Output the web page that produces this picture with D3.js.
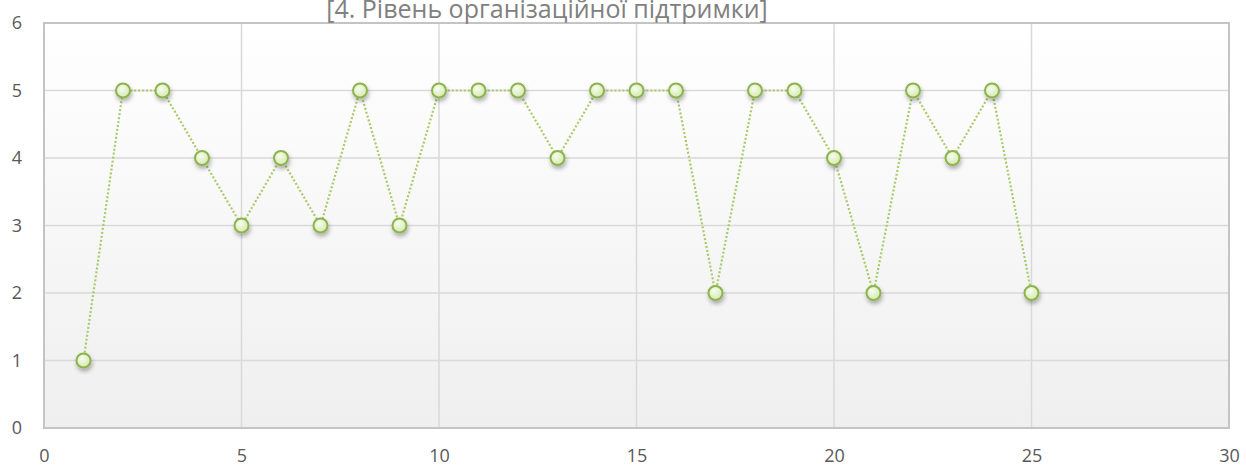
<!DOCTYPE html>
<html>
<head>
<meta charset="utf-8">
<script src="https://cdn.jsdelivr.net/npm/d3@7"></script>
<style>
  body { margin: 0; background: #fff; }
  text { font-family: "Open Sans", "DejaVu Sans", sans-serif; }
</style>
</head>
<body>
<div id="chart"></div>
<script>
const title = "[4. Рівень організаційної підтримки]";
const xValues = d3.range(1, 26);
const yValues = [1, 5, 5, 4, 3, 4, 3, 5, 3, 5, 5, 5, 4, 5, 5, 5, 2, 5, 5, 4, 2, 5, 4, 5, 2];
const xTicks = [0, 5, 10, 15, 20, 25, 30];
const yTicks = [0, 1, 2, 3, 4, 5, 6];

const width = 1246, height = 469;
const margin = { top: 23, right: 17, bottom: 41, left: 44 };
const w = width - margin.left - margin.right;
const h = height - margin.top - margin.bottom;

const svg = d3.select("#chart").append("svg")
    .attr("width", width)
    .attr("height", height);

const defs = svg.append("defs");
let bg = defs.append("linearGradient").attr("id", "bg")
    .attr("x1", 0).attr("y1", 0).attr("x2", 0).attr("y2", 1);
bg.append("stop").attr("offset", "0%").attr("stop-color", "#ffffff");
bg.append("stop").attr("offset", "100%").attr("stop-color", "#efefef");

let mk = defs.append("radialGradient").attr("id", "mk")
    .attr("cx", "40%").attr("cy", "35%").attr("r", "65%");
mk.append("stop").attr("offset", "0%").attr("stop-color", "#f7fcee");
mk.append("stop").attr("offset", "100%").attr("stop-color", "#d6eab0");

let sh = defs.append("filter").attr("id", "sh")
    .attr("x", "-50%").attr("y", "-50%").attr("width", "200%").attr("height", "200%");
sh.append("feDropShadow").attr("dx", 1).attr("dy", 3).attr("stdDeviation", 2)
    .attr("flood-color", "#000").attr("flood-opacity", 0.3);

const g = svg.append("g").attr("transform", `translate(${margin.left}, ${margin.top})`);

let x = d3.scaleLinear().domain([0, 30]).range([0, w]);
let y = d3.scaleLinear().domain([0, 6]).range([h, 0]);

// plot background
g.append("rect").attr("width", w).attr("height", h).attr("fill", "url(#bg)");

// gridlines
g.append("g").selectAll("line").data(yTicks.slice(1))
    .enter().append("line")
    .attr("x1", 0).attr("x2", w)
    .attr("y1", d => y(d)).attr("y2", d => y(d))
    .attr("stroke", "#d9d9d9").attr("stroke-width", 1.5);
g.append("g").selectAll("line").data(xTicks.slice(1, -1))
    .enter().append("line")
    .attr("x1", d => x(d)).attr("x2", d => x(d))
    .attr("y1", 0).attr("y2", h)
    .attr("stroke", "#d9d9d9").attr("stroke-width", 1.5);

// axes
let xAxis = g.append("g").attr("transform", `translate(0, ${h})`)
    .call(d3.axisBottom(x).tickValues(xTicks).tickFormat(d3.format("d")).tickSize(0).tickPadding(21));
let yAxis = g.append("g")
    .call(d3.axisLeft(y).tickValues(yTicks).tickFormat(d3.format("d")).tickSize(0).tickPadding(22));
[xAxis, yAxis].forEach(a => {
    a.select(".domain").remove();
    a.selectAll("text")
        .style("font-family", "'Open Sans', sans-serif")
        .style("font-size", "18px")
        .attr("fill", "#595959");
});

// plot border
g.append("rect").attr("width", w).attr("height", h)
    .attr("fill", "none").attr("stroke", "#c4c4c4").attr("stroke-width", 2);

// series
const data = xValues.map((v, i) => ({ x: v, y: yValues[i] }));
g.append("path").datum(data)
    .attr("fill", "none")
    .attr("stroke", "#a9c96c")
    .attr("stroke-width", 2.2)
    .attr("stroke-dasharray", "2,2")
    .attr("d", d3.line().x(d => x(d.x)).y(d => y(d.y)));

g.append("g").selectAll("circle").data(data)
    .enter().append("circle")
    .attr("cx", d => x(d.x))
    .attr("cy", d => y(d.y))
    .attr("r", 7)
    .attr("fill", "url(#mk)")
    .attr("stroke", "#8db350")
    .attr("stroke-width", 2)
    .attr("filter", "url(#sh)");

// title (top partly cut off, as in the source)
svg.append("text")
    .attr("x", 547).attr("y", 18)
    .attr("text-anchor", "middle")
    .attr("fill", "#808080")
    .style("font-size", "25px")
    .text(title);
</script>
</body>
</html>
